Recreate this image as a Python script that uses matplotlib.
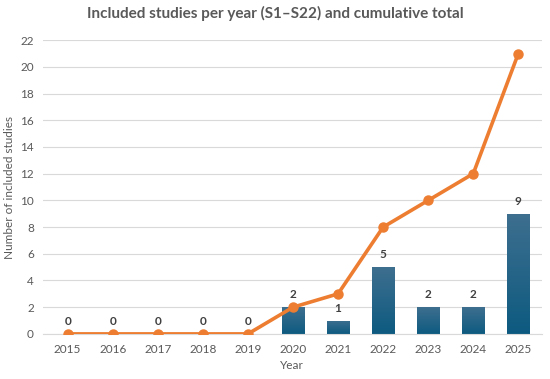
import numpy as np
import matplotlib.pyplot as plt
from matplotlib.colors import LinearSegmentedColormap

years = ['2015', '2016', '2017', '2018', '2019', '2020', '2021', '2022', '2023', '2024', '2025']
per_year = [0, 0, 0, 0, 0, 2, 1, 5, 2, 2, 9]
cumulative = [0, 0, 0, 0, 0, 2, 3, 8, 10, 12, 21]

plt.rcParams['font.family'] = ['Lato', 'DejaVu Sans']

fig = plt.figure(figsize=(5.5, 3.79), dpi=100)
ax = fig.add_axes([0.078, 0.119, 0.907, 0.775])

x = np.arange(len(years))
bar_w = 0.49
bars = ax.bar(x, per_year, width=bar_w, color='#175f86', zorder=2)

# vertical gradient on bars
grad = np.linspace(0, 1, 256).reshape(-1, 1)
cmap = LinearSegmentedColormap.from_list('bar', ['#0d5a80', '#3e6f8f'])
for b in bars:
    h = b.get_height()
    if h <= 0:
        continue
    x0 = b.get_x()
    im = ax.imshow(grad, extent=[x0, x0 + bar_w, 0, h], origin='lower',
                   cmap=cmap, aspect='auto', zorder=2.1)
    im.set_clip_path(b)

for xi, v in zip(x, per_year):
    ax.annotate(str(v), (xi, v), xytext=(0, 5), textcoords='offset points',
                ha='center', va='bottom', fontsize=8.5, fontweight='bold',
                color='#404040', zorder=4)

ax.plot(x, cumulative, color='#ed7d31', linewidth=2.6, marker='o',
        markersize=6.5, zorder=3)

ax.set_xlim(-0.55, 10.52)
ax.set_ylim(0, 22)
ax.set_yticks(range(0, 23, 2))
ax.set_xticks(x)
ax.set_xticklabels(years)
ax.tick_params(axis='both', length=0, labelsize=8.5, colors='#595959')
ax.tick_params(axis='y', pad=6.5)
ax.tick_params(axis='x', pad=7)
ax.grid(axis='y', color='#d9d9d9', linewidth=0.8, zorder=0)
ax.set_axisbelow(True)
for s in ['top', 'right', 'left']:
    ax.spines[s].set_visible(False)
ax.spines['bottom'].set_color('#d9d9d9')

ax.set_xlabel('Year', fontsize=8.5, color='#595959', labelpad=4)
fig.text(10 / 550, 0.119 + 0.775 / 2, 'Number of included studies', rotation=90,
         ha='center', va='center', fontsize=8.5, color='#595959')
fig.suptitle('Included studies per year (S1\u2013S22) and cumulative total',
             x=0.5, y=0.985, fontsize=11, fontweight='bold', color='#595959')

fig.savefig('out.png', dpi=100)
